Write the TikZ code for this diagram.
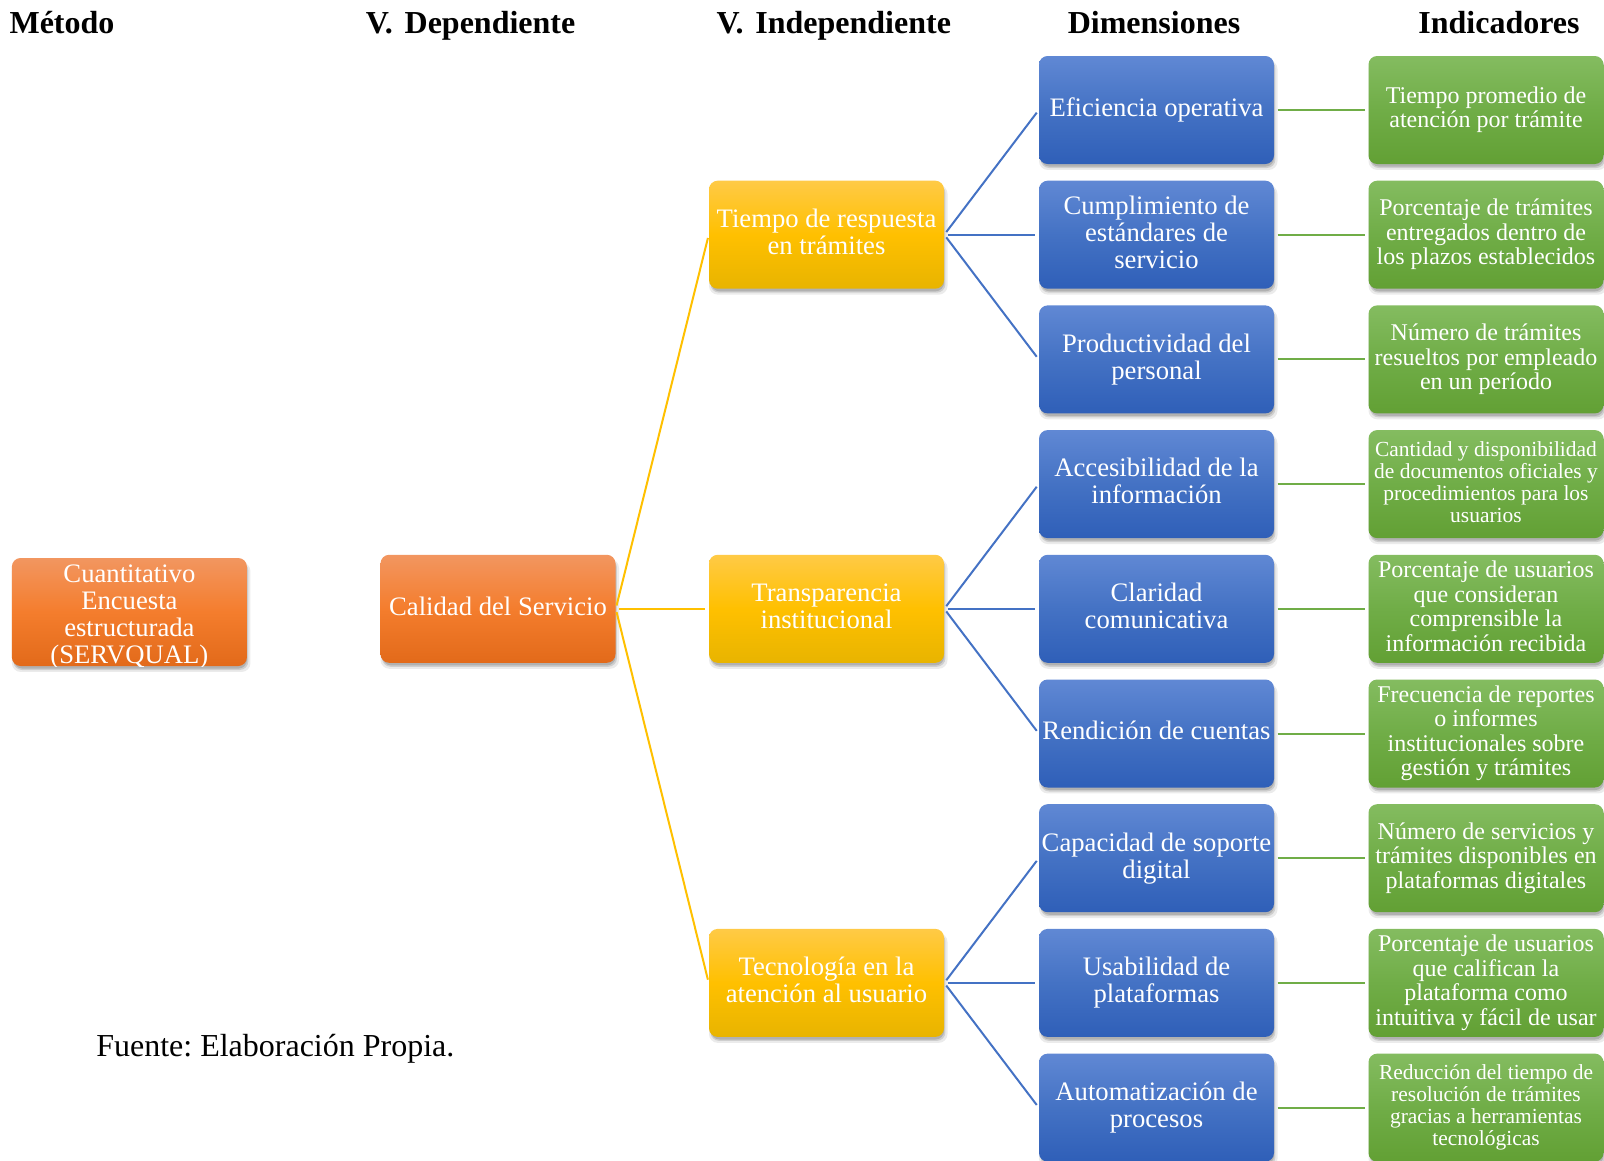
\documentclass[tikz,border=0pt]{standalone}
\usepackage{fontspec}
\setmainfont{Liberation Serif}
\usetikzlibrary{shadows}
\frenchspacing

% fill gradients (top / middle / bottom) and connector colours
\definecolor{orTop}{RGB}{242,150,96}
\definecolor{orMid}{RGB}{244,125,45}
\definecolor{orBot}{RGB}{226,106,26}
\definecolor{yeTop}{RGB}{255,202,70}
\definecolor{yeMid}{RGB}{255,192,0}
\definecolor{yeBot}{RGB}{232,180,0}
\definecolor{blTop}{RGB}{96,136,212}
\definecolor{blMid}{RGB}{68,114,196}
\definecolor{blBot}{RGB}{47,95,184}
\definecolor{grTop}{RGB}{132,188,96}
\definecolor{grMid}{RGB}{112,173,71}
\definecolor{grBot}{RGB}{98,160,52}
\definecolor{lnYellow}{RGB}{255,192,0}
\definecolor{lnBlue}{RGB}{68,114,196}
\definecolor{lnGreen}{RGB}{112,173,71}

% zero-width strut giving the last line a fixed descender depth
\newcommand{\lastdepth}{\rule[-0.22em]{0pt}{0.22em}}

\begin{document}
\begin{tikzpicture}[x=0.75pt,y=-0.75pt,
  soft shadow/.style={
    general shadow={fill=black, opacity=0.08, shadow xshift=1.3pt, shadow yshift=-3.8pt, shadow scale=1.015},
    general shadow={fill=black, opacity=0.12, shadow xshift=1.1pt, shadow yshift=-3.0pt},
    general shadow={fill=black, opacity=0.14, shadow xshift=0.8pt, shadow yshift=-2.3pt, shadow scale=0.992}},
  box/.style={rounded corners=6.5pt, minimum width=176.25pt, minimum height=81pt,
    inner sep=0pt, align=center, text=white, soft shadow,
    font=\fontsize{20}{20.25}\selectfont, execute at end node=\lastdepth},
  orangebox/.style={box, top color=orTop, bottom color=orBot, middle color=orMid},
  yellowbox/.style={box, top color=yeTop, bottom color=yeBot, middle color=yeMid},
  bluebox/.style={box, top color=blTop, bottom color=blBot, middle color=blMid},
  greenbox/.style={box, top color=grTop, bottom color=grBot, middle color=grMid,
    font=\fontsize{18}{18.4}\selectfont},
  smalltext/.style={font=\fontsize{16.1}{16.5}\selectfont},
  header/.style={anchor=base, font=\fontsize{24}{24}\selectfont\bfseries},
  link/.style={line width=1.5pt, shorten <=2.5pt, shorten >=2.5pt},
  ylink/.style={link, draw=lnYellow},
  blink/.style={link, draw=lnBlue},
  glink/.style={link, draw=lnGreen}]

\useasboundingbox (0,0) rectangle (1604,1161);

% column headings
\node[header] (hm) at (62,33)     {Método};
\node[header] (hd) at (470.6,33)  {V.\hspace{0.12em} Dependiente};
\node[header] (hi) at (833.8,33)  {V.\hspace{0.12em} Independiente};
\node[header] (hdi) at (1154,33)  {Dimensiones};
\node[header] (hin) at (1499,33)  {Indicadores};

% method box: its text runs past the lower edge and is cut there
\node[orangebox] (met) at (129.4,612) {};
\begin{scope}
  \clip[rounded corners=6.5pt] (met.south west) rectangle (met.north east);
  \node[align=center, text=white, inner sep=0pt, font=\fontsize{20}{20.25}\selectfont]
    (mettext) at (129.4,617) {Cuantitativo\\Encuesta\\estructurada\\(SERVQUAL)};
\end{scope}

% dependent variable
\node[orangebox] (cal) at (498,608.8) {Calidad del Servicio};

% independent variables
\node[yellowbox] (v1) at (826.5,234.7) {Tiempo de respuesta\\en trámites};
\node[yellowbox] (v2) at (826.5,608.8) {Transparencia\\institucional};
\node[yellowbox] (v3) at (826.5,982.9) {Tecnología en la\\atención al usuario};

% dimensions
\node[bluebox] (d1) at (1156.5,110)    {Eficiencia operativa};
\node[bluebox] (d2) at (1156.5,234.7)  {Cumplimiento de\\estándares de\\servicio};
\node[bluebox] (d3) at (1156.5,359.4)  {Productividad del\\personal};
\node[bluebox] (d4) at (1156.5,484.1)  {Accesibilidad de la\\información};
\node[bluebox] (d5) at (1156.5,608.8)  {Claridad\\comunicativa};
\node[bluebox] (d6) at (1156.5,733.5)  {Rendición de cuentas};
\node[bluebox] (d7) at (1156.5,858.2)  {Capacidad de soporte\\digital};
\node[bluebox] (d8) at (1156.5,982.9)  {Usabilidad de\\plataformas};
\node[bluebox] (d9) at (1156.5,1107.6) {Automatización de\\procesos};

% indicators
\node[greenbox] (i1) at (1486,110)    {Tiempo promedio de\\atención por trámite};
\node[greenbox] (i2) at (1486,234.7)  {Porcentaje de trámites\\entregados dentro de\\los plazos establecidos};
\node[greenbox] (i3) at (1486,359.4)  {Número de trámites\\resueltos por empleado\\en un período};
\node[greenbox, smalltext] (i4) at (1486,484.1) {Cantidad y disponibilidad\\de documentos oficiales y\\procedimientos para los\\usuarios};
\node[greenbox] (i5) at (1486,608.8)  {Porcentaje de usuarios\\que consideran\\comprensible la\\información recibida};
\node[greenbox] (i6) at (1486,733.5)  {Frecuencia de reportes\\o informes\\institucionales sobre\\gestión y trámites};
\node[greenbox] (i7) at (1486,858.2)  {Número de servicios y\\trámites disponibles en\\plataformas digitales};
\node[greenbox] (i8) at (1486,982.9)  {Porcentaje de usuarios\\que califican la\\plataforma como\\intuitiva y fácil de usar};
\node[greenbox, smalltext] (i9) at (1486,1107.6) {Reducción del tiempo de\\resolución de trámites\\gracias a herramientas\\tecnológicas};

% source note
\node[anchor=base west, inner sep=0pt, font=\fontsize{24}{24}\selectfont] (src) at (96,1056) {Fuente: Elaboración Propia.};

% connectors
\foreach \v in {v1,v2,v3} \draw[ylink] (cal.east) -- (\v.west);
\foreach \d in {d1,d2,d3} \draw[blink] (v1.east) -- (\d.west);
\foreach \d in {d4,d5,d6} \draw[blink] (v2.east) -- (\d.west);
\foreach \d in {d7,d8,d9} \draw[blink] (v3.east) -- (\d.west);
\foreach \n in {1,...,9} \draw[glink] (d\n.east) -- (i\n.west);

\end{tikzpicture}
\end{document}
